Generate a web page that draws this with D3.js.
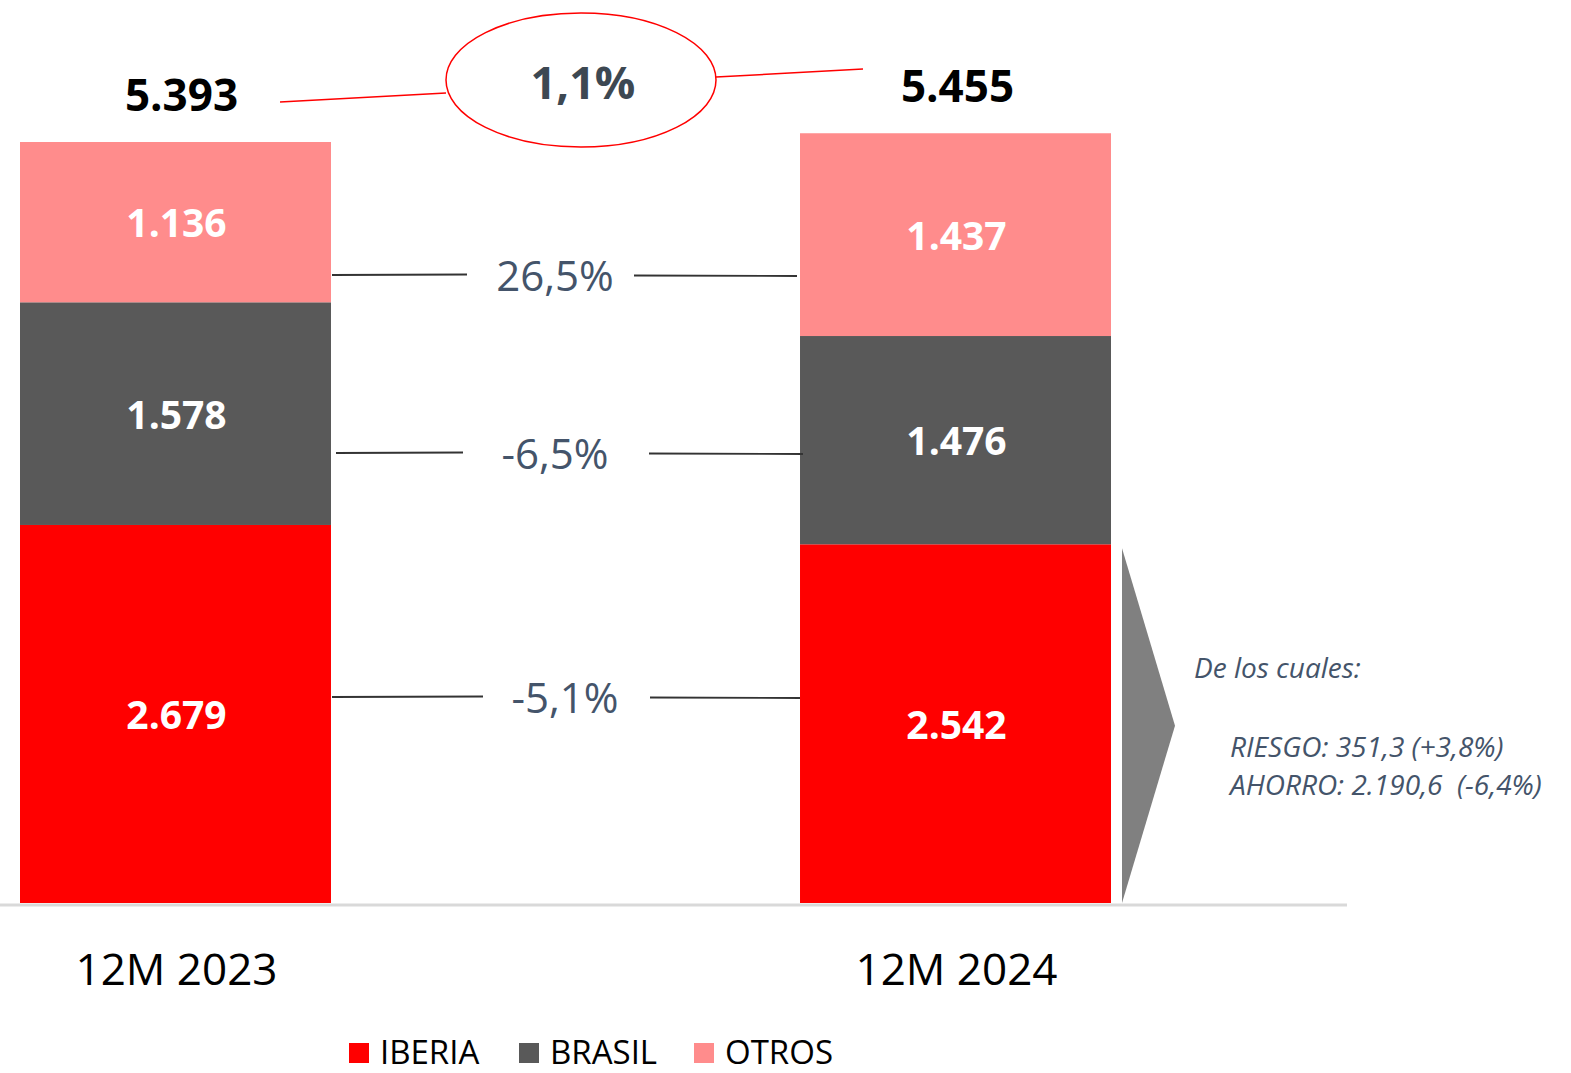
<!DOCTYPE html>
<html>
<head>
<meta charset="utf-8">
<script src="https://cdn.jsdelivr.net/npm/d3@7"></script>
<style>
  body { margin: 0; background: #fff; }
  text { font-family: "Open Sans", sans-serif; }
</style>
</head>
<body>
<div id="chart"></div>
<script>
// data
var periods = ["12M 2023", "12M 2024"];
var segments = ["IBERIA", "BRASIL", "OTROS"];
var iberia = [2679, 2542];
var brasil = [1578, 1476];
var otros = [1136, 1437];
var totals = [5393, 5455];
var changes = ["-5,1%", "-6,5%", "26,5%"];
var totalChange = "1,1%";
var notes = ["De los cuales:", "RIESGO: 351,3 (+3,8%)", "AHORRO: 2.190,6  (-6,4%)"];

var WIDTH = 1571, HEIGHT = 1073;
var BASE = 903;
var colors = { IBERIA: "#ff0000", BRASIL: "#595959", OTROS: "#ff8c8c" };
var TEXT_COL = "#44546a";

var svg = d3.select("#chart").append("svg")
    .attr("width", WIDTH).attr("height", HEIGHT);

var x = d3.scaleBand().domain(periods).range([20, 1111])
    .paddingInner(0.6013).paddingOuter(0);
var y = d3.scaleLinear().domain([0, totals[0]]).range([BASE, 142]);

// build stacked table
var rows = periods.map(function (p, i) {
  return { period: p, IBERIA: iberia[i], BRASIL: brasil[i], OTROS: otros[i] };
});
var stack = d3.stack().keys(segments)(rows);

// baseline
svg.append("line")
    .attr("x1", 0).attr("x2", 1347)
    .attr("y1", BASE + 2).attr("y2", BASE + 2)
    .style("stroke", "#d9d9d9").style("stroke-width", 3);

var layers = svg.selectAll("g.layer").data(stack).enter()
    .append("g").attr("class", "layer")
    .style("fill", function (d) { return colors[d.key]; });

layers.selectAll("rect").data(function (d) { return d; }).enter()
    .append("rect")
    .attr("x", function (d) { return x(d.data.period); })
    .attr("width", x.bandwidth())
    .attr("y", function (d) { return y(d[1]); })
    .attr("height", function (d) { return y(d[0]) - y(d[1]); });

// value labels inside bars
var fmt = d3.formatLocale({ decimal: ",", thousands: ".", grouping: [3], currency: ["", ""] }).format(",d");
layers.selectAll("text").data(function (d) { return d; }).enter()
    .append("text")
    .attr("x", function (d) { return x(d.data.period) + x.bandwidth() / 2 + 1; })
    .attr("y", function (d) { return (y(d[0]) + y(d[1])) / 2 + 15; })
    .attr("text-anchor", "middle")
    .style("fill", "#fff").style("font-weight", 700).style("font-size", "39px")
    .text(function (d) { return fmt(d[1] - d[0]); });

// totals on top
svg.selectAll("text.total").data(totals).enter()
    .append("text").attr("class", "total")
    .attr("x", function (d, i) { return x(periods[i]) + x.bandwidth() / 2 + 6 - 4 * i; })
    .attr("y", function (d, i) { return y(d) - 31; })
    .attr("text-anchor", "middle")
    .style("fill", "#000").style("font-weight", 700).style("font-size", "44px")
    .text(function (d) { return fmt(d); });

// category axis labels
svg.selectAll("text.cat").data(periods).enter()
    .append("text").attr("class", "cat")
    .attr("x", function (d) { return x(d) + x.bandwidth() / 2 + 1; })
    .attr("y", 985)
    .attr("text-anchor", "middle")
    .style("fill", "#000").style("font-size", "44px")
    .text(function (d) { return d; });

// change annotations between bars
var changeY = [697, 453, 275];
var gaps = [[332, 483, 650, 800], [336, 463, 649, 803], [332, 467, 634, 797]];
changes.forEach(function (c, i) {
  var g = gaps[i];
  svg.append("line").attr("x1", g[0]).attr("x2", g[1])
      .attr("y1", changeY[i]).attr("y2", changeY[i] - 0.5)
      .style("stroke", "#333").style("stroke-width", 1.8);
  svg.append("line").attr("x1", g[2]).attr("x2", g[3])
      .attr("y1", changeY[i] + 0.5).attr("y2", changeY[i] + 1)
      .style("stroke", "#333").style("stroke-width", 1.8);
  svg.append("text")
      .attr("x", i == 0 ? 565 : 555).attr("y", changeY[i] + 16)
      .attr("text-anchor", "middle")
      .style("fill", TEXT_COL).style("font-size", "42px")
      .text(c);
});

// total change ellipse
svg.append("line").attr("x1", 280).attr("y1", 102).attr("x2", 446).attr("y2", 93)
    .style("stroke", "#ff0000").style("stroke-width", 1.5);
svg.append("line").attr("x1", 716).attr("y1", 77).attr("x2", 863).attr("y2", 69)
    .style("stroke", "#ff0000").style("stroke-width", 1.5);
svg.append("ellipse").attr("cx", 581).attr("cy", 80).attr("rx", 135).attr("ry", 67)
    .style("fill", "#fff").style("stroke", "#ff0000").style("stroke-width", 1.5);
svg.append("text").attr("x", 583).attr("y", 99)
    .attr("text-anchor", "middle")
    .style("fill", "#3d4852").style("font-weight", 700).style("font-size", "45px")
    .text(totalChange);

// arrow pointing to breakdown of IBERIA
var ib2 = stack[0][1];
svg.append("polygon")
    .attr("points", [[1122, y(ib2[1]) + 4], [1175, (y(ib2[1]) + BASE) / 2 + 2], [1122, BASE]].join(" "))
    .style("fill", "#808080");

svg.selectAll("text.note").data(notes).enter()
    .append("text").attr("class", "note")
    .attr("x", function (d, i) { return i == 0 ? 1194 : 1230; })
    .attr("y", function (d, i) { return [678, 757, 795][i]; })
    .style("fill", TEXT_COL).style("font-style", "italic").style("font-size", "28px")
    .style("white-space", "pre")
    .text(function (d) { return d; });

// legend
var legX = [349, 519, 694];
var leg = svg.selectAll("g.leg").data(segments).enter()
    .append("g").attr("class", "leg")
    .attr("transform", function (d, i) { return "translate(" + legX[i] + ",1043)"; });
leg.append("rect").attr("width", 20).attr("height", 20)
    .style("fill", function (d) { return colors[d]; });
leg.append("text").attr("x", 31).attr("y", 21)
    .style("fill", "#000").style("font-size", "33px")
    .text(function (d) { return d; });
</script>
</body>
</html>
